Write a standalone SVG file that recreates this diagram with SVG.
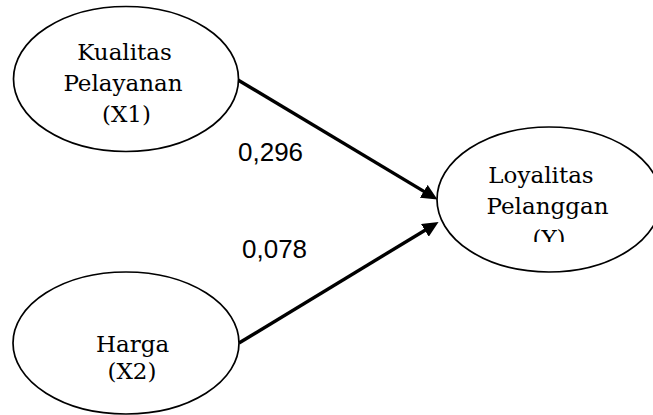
<svg xmlns="http://www.w3.org/2000/svg" width="653" height="415" viewBox="0 0 653 415">
  <style>
    .node ellipse { fill: #ffffff; stroke: #000000; stroke-width: 1.7; }
    .nt { font-family: "DejaVu Serif", "Liberation Serif", serif; font-size: 23px; fill: #000000; text-anchor: middle; }
    .edge { stroke: #000000; stroke-width: 3.4; fill: none; marker-end: url(#arrow); }
    .lbl { font-family: "Liberation Sans", Arial, sans-serif; font-size: 26px; fill: #000000; }
  </style>
  <defs>
    <marker id="arrow" viewBox="0 0 16 15" refX="6" refY="7.5" markerWidth="16" markerHeight="15" markerUnits="userSpaceOnUse" orient="auto">
      <path d="M0,0 L16,7.5 L0,15 Z" fill="#000000"/>
    </marker>
    <clipPath id="clipY">
      <rect x="430" y="120" width="223" height="122"/>
    </clipPath>
  </defs>
  <rect width="653" height="415" fill="#ffffff"/>

  <g id="connectors">
    <line class="edge" x1="238" y1="80" x2="428.9" y2="194.4"/>
    <line class="edge" x1="239" y1="343" x2="430" y2="227.2"/>
    <text class="lbl" x="238" y="161">0,296</text>
    <text class="lbl" x="242" y="258">0,078</text>
  </g>

  <g id="node-x1" class="node">
    <ellipse cx="126" cy="79" rx="112.5" ry="72.5"/>
    <text class="nt" x="124.5" y="60">Kualitas</text>
    <text class="nt" x="123" y="91">Pelayanan</text>
    <text class="nt" x="126.5" y="122">(X1)</text>
  </g>

  <g id="node-x2" class="node">
    <ellipse cx="126" cy="343" rx="113" ry="71"/>
    <text class="nt" x="132.5" y="352">Harga</text>
    <text class="nt" x="132" y="379">(X2)</text>
  </g>

  <g id="node-y" class="node">
    <ellipse cx="549" cy="199.5" rx="112" ry="72.5"/>
    <g clip-path="url(#clipY)">
      <text class="nt" x="541" y="183">Loyalitas</text>
      <text class="nt" x="547.5" y="214">Pelanggan</text>
      <text class="nt" x="549" y="246">(Y)</text>
    </g>
  </g>
</svg>
